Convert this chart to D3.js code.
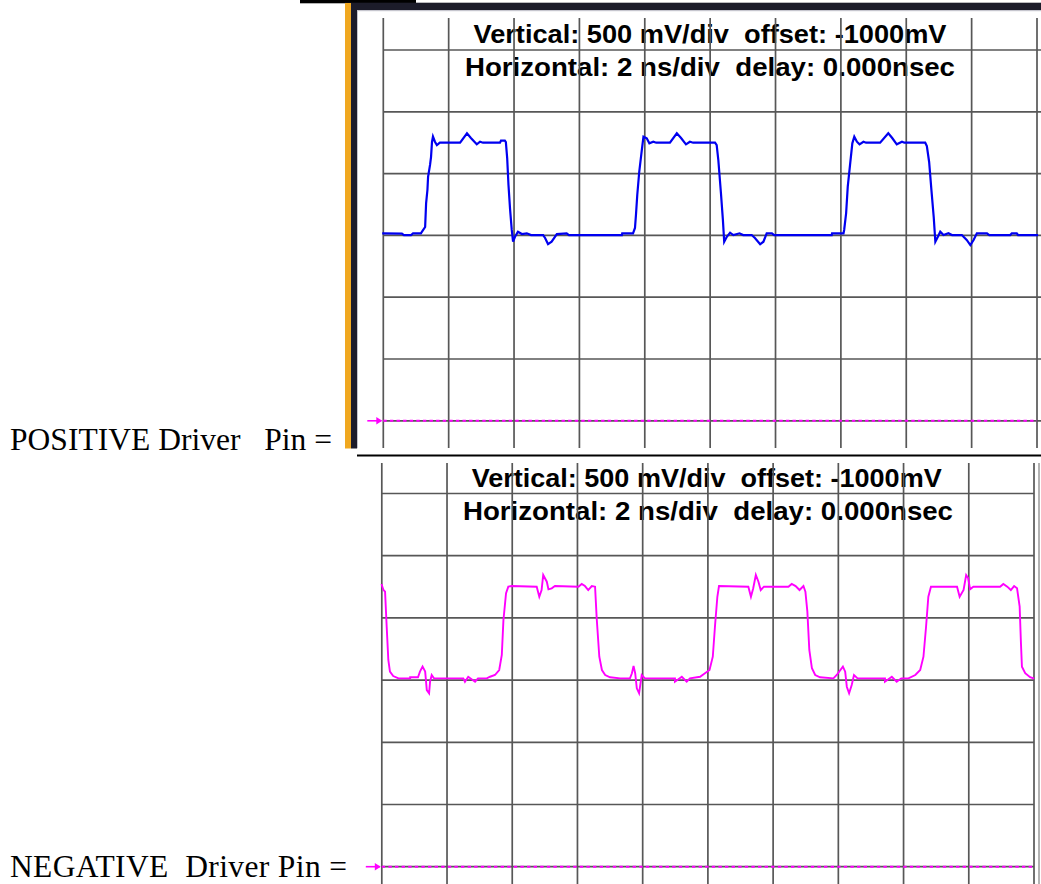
<!DOCTYPE html>
<html><head><meta charset="utf-8">
<script src="https://cdn.jsdelivr.net/npm/d3@7"></script>
<style>html,body{margin:0;padding:0;background:#fff;overflow:hidden}</style>
</head><body>
<svg id="c" width="1041" height="884" xmlns="http://www.w3.org/2000/svg"></svg>
<script>
// ---------------- DATA ----------------
const timeGridNs = [0, 2, 4, 6, 8, 10, 12, 14, 16, 18, 20];
const voltGridMv = [-2500, -2000, -1500, -1000, -500, 0, 500];
const refMarkerMv = -2500;
const offsetMv = -1000;
const mvPerDiv = 500;
const scopeLabels = ["Vertical: 500 mV/div  offset: -1000mV", "Horizontal: 2 ns/div  delay: 0.000nsec"];
const pinLabels = ["POSITIVE Driver   Pin =", "NEGATIVE  Driver Pin ="];

// POSITIVE driver trace (blue): time ns, voltage mV
const posTimeNs = [0.00,0.57,0.63,0.85,0.91,1.15,1.22,1.28,1.31,1.35,1.37,1.43,1.46,1.49,1.52,1.58,1.64,1.73,2.35,2.56,2.68,2.86,2.96,3.05,3.57,3.60,3.72,3.75,3.79,3.83,3.88,3.93,3.97,4.03,4.12,4.24,4.39,4.52,4.89,4.95,5.04,5.15,5.31,5.61,5.68,
  7.30,7.31,7.64,7.70,7.73,7.77,7.83,7.91,7.96,8.06,8.14,8.26,8.35,8.77,8.98,9.11,9.26,9.38,9.48,10.15,10.20,10.25,10.33,10.39,10.43,10.51,10.61,10.71,10.90,11.01,11.27,11.37,11.53,11.63,11.73,11.89,11.96,
  13.72,13.73,14.08,14.10,14.16,14.21,14.28,14.35,14.41,14.49,14.57,14.69,14.77,15.20,15.45,15.57,15.71,15.87,15.94,16.58,16.63,16.70,16.77,16.84,16.89,16.96,17.04,17.14,17.29,17.40,17.70,17.85,17.96,18.06,18.16,18.47,18.54,19.18,19.23,19.38,19.42,20.00];
const posVoltMv = [-983,-985,-997,-997,-983,-983,-956,-932,-738,-633,-527,-430,-366,-244,-201,-242,-269,-250,-250,-174,-212,-263,-242,-250,-250,-234,-234,-245,-374,-592,-794,-956,-1051,-1011,-970,-989,-983,-997,-997,-1021,-1070,-1051,-989,-983,-997,
  -997,-983,-983,-940,-835,-673,-487,-309,-201,-214,-255,-242,-250,-250,-174,-212,-263,-242,-250,-250,-269,-390,-657,-875,-1051,-1011,-978,-997,-983,-997,-997,-1021,-1072,-1051,-983,-983,-997,
  -997,-983,-983,-956,-821,-606,-430,-255,-201,-242,-263,-242,-250,-250,-174,-212,-263,-242,-250,-250,-277,-406,-633,-851,-1051,-1015,-970,-997,-983,-997,-997,-1037,-1078,-1037,-983,-983,-997,-997,-983,-983,-997,-997];

// NEGATIVE driver trace (magenta): time ns, voltage mV
const negTimeNs = [0.00,0.05,0.10,0.15,0.20,0.25,0.35,0.51,0.87,0.87,1.11,1.17,1.25,1.33,1.38,1.45,1.48,1.53,1.60,2.50,2.55,2.65,2.86,2.95,3.22,3.32,3.47,3.60,3.68,3.73,3.81,3.88,3.98,4.75,4.83,4.90,4.95,5.06,5.11,5.21,5.31,6.03,6.13,6.23,6.33,6.44,6.54,6.59,6.67,6.75,6.85,7.00,7.31,
  7.61,7.67,7.72,7.77,7.82,7.89,7.97,8.07,8.99,8.99,9.20,9.35,9.45,9.76,9.91,10.05,10.15,10.22,10.29,10.34,11.24,11.32,11.39,11.47,11.55,11.62,11.72,12.47,12.57,12.69,12.81,12.93,12.99,13.05,13.11,13.19,13.29,13.44,13.85,
  13.95,14.14,14.21,14.26,14.33,14.41,14.48,14.59,15.43,15.43,15.64,15.79,15.93,16.15,16.36,16.51,16.61,16.69,16.76,16.84,17.64,17.72,17.84,17.92,17.98,18.04,18.14,18.96,19.06,19.18,19.29,19.39,19.48,19.56,19.60,19.63,19.73,19.88,19.98];
const negVoltMv = [-235,-276,-289,-571,-838,-932,-967,-986,-986,-977,-977,-932,-892,-932,-1080,-1106,-1013,-959,-986,-986,-1013,-973,-1013,-986,-986,-973,-959,-919,-798,-517,-302,-249,-244,-249,-330,-276,-155,-209,-270,-262,-244,-249,-227,-244,-276,-244,-249,-503,-812,-919,-959,-977,-986,
  -986,-945,-887,-945,-1066,-1106,-959,-986,-986,-1013,-973,-1013,-986,-973,-945,-919,-812,-557,-330,-244,-249,-330,-262,-155,-209,-276,-249,-249,-227,-244,-276,-244,-289,-450,-758,-905,-959,-977,-986,
  -959,-892,-932,-1053,-1106,-1039,-959,-986,-986,-1013,-973,-1013,-986,-986,-959,-919,-812,-571,-330,-249,-249,-330,-276,-155,-180,-270,-249,-249,-227,-249,-276,-244,-262,-410,-704,-892,-945,-977,-986];

// ---------------- LAYOUT ----------------
const svg = d3.select("#c");
const gridColor = "#575757";

const panels = [
  { x0: 383.3, x1: 1037.0, yc: 235.4, div: 61.8, gTop: 18, gBot: 448, hRight: 1041,
    text: [{x: 473.5, y: 43, w: 473}, {x: 465, y: 76, w: 490}],
    t: posTimeNs, v: posVoltMv, color: "#0000f0", width: 2.2, label: pinLabels[0], labelY: 450, labelW: 322, extraEdge: false },
  { x0: 381.8, x1: 1034.0, yc: 680.1, div: 62.2, gTop: 463, gBot: 884, hRight: 1034,
    text: [{x: 471.7, y: 486.7, w: 470}, {x: 463, y: 520, w: 490}],
    t: negTimeNs, v: negVoltMv, color: "#ff00ff", width: 1.9, label: pinLabels[1], labelY: 876.5, labelW: 337, extraEdge: true }
];

// frame of the top screenshot
svg.append("rect").attr("x", 300).attr("y", 0).attr("width", 116).attr("height", 3.3).attr("fill", "#000");
svg.append("rect").attr("x", 345).attr("y", 2.7).attr("width", 696).attr("height", 7.5).attr("fill", "#1c1c2a");
svg.append("rect").attr("x", 345).attr("y", 3).attr("width", 6).attr("height", 445.5).attr("fill", "#f0a820");
svg.append("rect").attr("x", 351).attr("y", 3).attr("width", 6).attr("height", 445.5).attr("fill", "#1c1c2a");
svg.append("rect").attr("x", 357).attr("y", 10.2).attr("width", 684).attr("height", 1).attr("fill", "#c4c4cc");
svg.append("rect").attr("x", 357).attr("y", 10.2).attr("width", 1).attr("height", 438).attr("fill", "#c4c4cc");
// separator line
svg.append("line").attr("x1", 357).attr("x2", 1041).attr("y1", 455.5).attr("y2", 455.5)
  .attr("stroke", "#000").attr("stroke-width", 2);

panels.forEach(p => {
  const x = d3.scaleLinear().domain([timeGridNs[0], timeGridNs[timeGridNs.length - 1]]).range([p.x0, p.x1]);
  const y = d3.scaleLinear().domain([offsetMv - 4 * mvPerDiv, offsetMv + 4 * mvPerDiv])
    .range([p.yc + 4 * p.div, p.yc - 4 * p.div]);
  const g = svg.append("g");

  // scope header text
  scopeLabels.forEach((s, i) => {
    g.append("text").attr("x", p.text[i].x).attr("y", p.text[i].y)
      .attr("textLength", p.text[i].w).attr("lengthAdjust", "spacingAndGlyphs")
      .attr("xml:space", "preserve").style("white-space", "pre")
      .attr("font-family", "'Liberation Sans', Arial, sans-serif").attr("font-weight", "bold")
      .attr("font-size", 25).attr("fill", "#000").text(s);
  });

  // grid
  g.selectAll(".h").data(voltGridMv).join("line")
    .attr("x1", x(timeGridNs[0])).attr("x2", p.hRight)
    .attr("y1", d => y(d)).attr("y2", d => y(d))
    .attr("stroke", gridColor).attr("stroke-width", 1.7);
  g.selectAll(".v").data(timeGridNs).join("line")
    .attr("x1", d => x(d)).attr("x2", d => x(d))
    .attr("y1", p.gTop).attr("y2", p.gBot)
    .attr("stroke", gridColor).attr("stroke-width", 1.7);
  if (p.extraEdge) {
    g.append("line").attr("x1", p.x1 + 5).attr("x2", p.x1 + 5).attr("y1", p.gTop).attr("y2", p.gBot)
      .attr("stroke", "#9a9a9a").attr("stroke-width", 1.5);
  }

  // ground reference marker (dashed magenta + arrow)
  g.append("line").attr("x1", x(timeGridNs[0])).attr("x2", x(timeGridNs[timeGridNs.length - 1]))
    .attr("y1", y(refMarkerMv)).attr("y2", y(refMarkerMv))
    .attr("stroke", "#ff00ff").attr("stroke-width", 2).attr("stroke-dasharray", "3.4,3.2");
  const ay = y(refMarkerMv);
  const ax = x(timeGridNs[0]);
  g.append("line").attr("x1", ax - 16).attr("x2", ax - 2).attr("y1", ay).attr("y2", ay)
    .attr("stroke", "#ff00ff").attr("stroke-width", 1.6);
  g.append("path").attr("d", `M${ax - 1},${ay} L${ax - 7},${ay - 3.8} L${ax - 7},${ay + 3.8} Z`)
    .attr("fill", "#ff00ff");

  // trace
  const pts = p.t.map((t, i) => [t, p.v[i]]);
  g.append("path").datum(pts)
    .attr("d", d3.line().x(d => x(d[0])).y(d => y(d[1])))
    .attr("fill", "none").attr("stroke", p.color).attr("stroke-width", p.width)
    .attr("stroke-linejoin", "miter").attr("stroke-linecap", "square");

  // pin label
  svg.append("text").attr("x", 10).attr("y", p.labelY)
    .attr("xml:space", "preserve").style("white-space", "pre")
    .attr("textLength", p.labelW).attr("lengthAdjust", "spacing")
    .attr("font-family", "'Liberation Serif', 'Times New Roman', serif")
    .attr("font-size", 31.5).attr("fill", "#000").text(p.label);
});
</script>
</body></html>
